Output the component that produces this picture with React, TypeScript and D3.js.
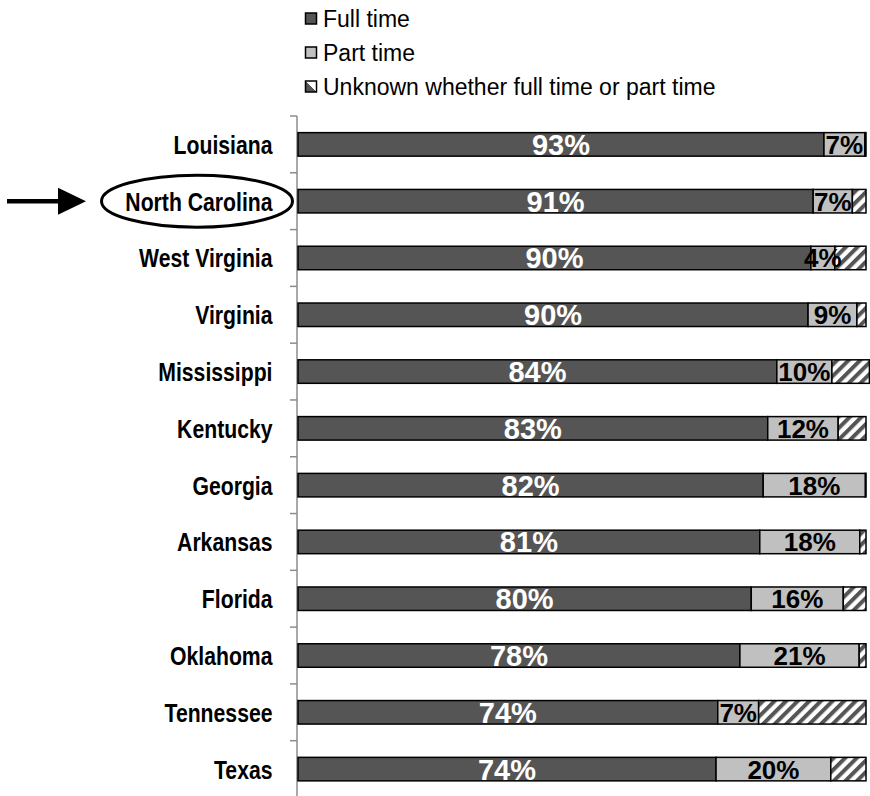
import React from "react";
import * as d3 from "d3";

const states = [
  "Louisiana", "North Carolina", "West Virginia", "Virginia", "Mississippi", "Kentucky",
  "Georgia", "Arkansas", "Florida", "Oklahoma", "Tennessee", "Texas",
];
const fullTime = [92.6, 90.7, 90.3, 89.8, 84.3, 82.7, 81.9, 81.3, 79.8, 77.8, 73.9, 73.6];
const partTime = [7.2, 6.9, 4.2, 8.6, 9.7, 12.4, 18.0, 17.6, 16.2, 21.0, 7.2, 20.2];
const unknown = [0.2, 2.4, 5.5, 1.6, 6.6, 4.9, 0.1, 1.1, 4.0, 1.2, 18.9, 6.2];
const legendLabels = ["Full time", "Part time", "Unknown whether full time or part time"];
const highlighted = "North Carolina";

const W = 870;
const H = 796;
const axisX = 297;

export default function App() {
  const x = d3.scaleLinear().domain([0, 100]).range([298, 866]);
  const band = d3.scaleBand().domain(states).range([116, 797.5]);
  const bh = 23.5;
  const fills = ["#555555", "#c0c0c0", "url(#hatch)"];
  const font = "'Liberation Sans', Arial, sans-serif";

  return (
    <svg width={W} height={H} style={{ position: "absolute", left: 0, top: 0 }} xmlns="http://www.w3.org/2000/svg">
      <defs>
        <pattern id="hatch" patternUnits="userSpaceOnUse" width={8.2} height={8.2} patternTransform="rotate(45)">
          <rect width={8.2} height={8.2} fill="#ffffff" />
          <line x1={2} y1={0} x2={2} y2={8.2} stroke="#555555" strokeWidth={4} />
        </pattern>
        <linearGradient id="legU" x1="0" y1="1" x2="1" y2="0">
          <stop offset="0.5" stopColor="#555555" />
          <stop offset="0.5" stopColor="#ffffff" />
        </linearGradient>
      </defs>

      {/* legend */}
      {legendLabels.map((lab, i) => {
        const cy = 18.5 + i * 34;
        return (
          <g key={lab}>
            <rect x={305.5} y={cy - 5.5} width={11} height={11}
              fill={i === 2 ? "url(#legU)" : fills[i]} stroke="#000" strokeWidth={1.5} />
            <text x={323} y={cy + 8} fontFamily={font} fontSize={23} fill="#000">{lab}</text>
          </g>
        );
      })}

      {/* axis */}
      <line x1={axisX} x2={axisX} y1={116} y2={H} stroke="#8c8c8c" strokeWidth={1.5} />
      {states.map((s) => (
        <line key={"t" + s} x1={axisX - 7} x2={axisX} y1={band(s)!} y2={band(s)!} stroke="#8c8c8c" strokeWidth={1.5} />
      ))}

      {/* bars */}
      {states.map((s, i) => {
        const cy = band(s)! + band.bandwidth() / 2;
        const vals = [fullTime[i], partTime[i], unknown[i]];
        let acc = 0;
        const segs = vals.map((v, k) => {
          const x0 = x(acc);
          acc += v;
          const x1 = x(acc);
          return { x0, x1, v, k };
        });
        return (
          <g key={s}>
            {segs.map((sg) => (
              <rect key={sg.k} x={sg.x0} y={cy - bh / 2} width={Math.max(0, sg.x1 - sg.x0)} height={bh}
                fill={fills[sg.k]} stroke="#000" strokeWidth={1.5} />
            ))}
            <text x={(segs[0].x0 + segs[0].x1) / 2} y={cy + 10.5} textAnchor="middle" fontFamily={font}
              fontWeight="bold" fontSize={29} fill="#ffffff">{Math.round(fullTime[i])}%</text>
            <text x={(segs[1].x0 + segs[1].x1) / 2} y={cy + 9.5} textAnchor="middle" fontFamily={font}
              fontWeight="bold" fontSize={26} fill="#000000">{Math.round(partTime[i])}%</text>
            <g transform={`translate(272.5, ${cy + 9.5}) scale(0.8, 1)`}>
              <text x={0} y={0} textAnchor="end" fontFamily={font} fontWeight="bold" fontSize={26.5} fill="#000">{s}</text>
            </g>
          </g>
        );
      })}

      {/* highlight */}
      {(() => {
        const cy = band(highlighted)! + band.bandwidth() / 2;
        return (
          <g>
            <ellipse cx={197} cy={cy} rx={95.5} ry={26} fill="none" stroke="#000" strokeWidth={3} />
            <line x1={7} x2={62} y1={cy} y2={cy} stroke="#000" strokeWidth={4.5} />
            <polygon points={`58,${cy - 13.5} 86,${cy} 58,${cy + 13.5}`} fill="#000" />
          </g>
        );
      })()}
    </svg>
  );
}
